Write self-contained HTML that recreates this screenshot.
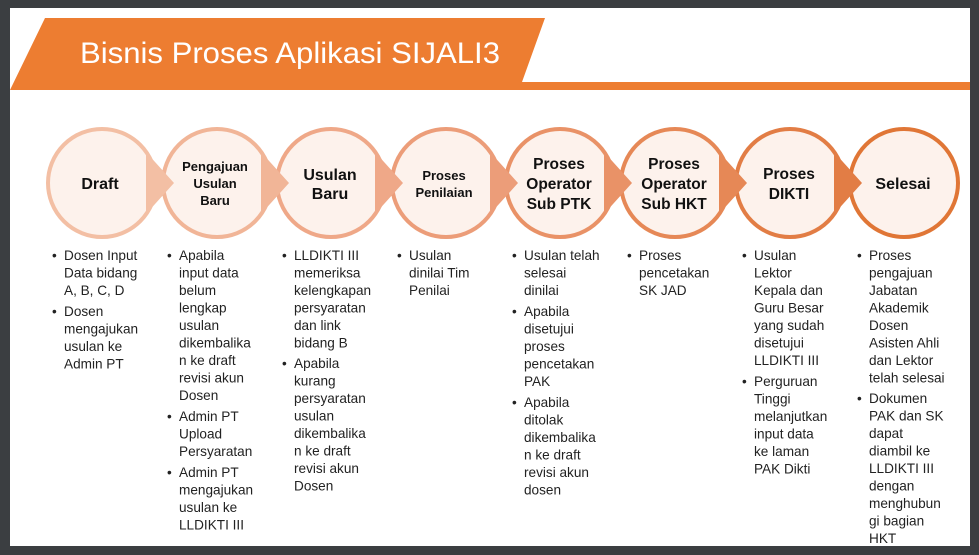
<!DOCTYPE html>
<html><head><meta charset="utf-8"><style>
html,body{margin:0;padding:0;background:#3b3e41;}
svg{display:block}
.t{font-family:"Liberation Sans",sans-serif;font-size:13.6px;fill:#222;}
.c{font-family:"Liberation Sans",sans-serif;font-weight:bold;fill:#111;text-anchor:middle;}
</style></head><body>
<svg width="979" height="555" viewBox="0 0 979 555" xmlns="http://www.w3.org/2000/svg">
<rect x="0" y="0" width="979" height="555" fill="#3b3e41"/>
<rect x="10" y="8" width="960" height="538" fill="#ffffff"/>
<polygon points="45,18 545,18 522,82 970,82 970,90 10,90" fill="#ed7d31"/>
<text x="80" y="63" font-family="Liberation Sans,sans-serif" font-size="30" fill="#fff" textLength="420" lengthAdjust="spacingAndGlyphs">Bisnis Proses Aplikasi SIJALI3</text>

<g stroke-width="4" fill="#fdf2ec">
<circle cx="102" cy="183" r="54" stroke="#f3bfa4"/>
<circle cx="217" cy="183" r="54" stroke="#f1b597"/>
<circle cx="331" cy="183" r="54" stroke="#efa888"/>
<circle cx="446" cy="183" r="54" stroke="#ec9d79"/>
<circle cx="560" cy="183" r="54" stroke="#e99267"/>
<circle cx="675" cy="183" r="54" stroke="#e68856"/>
<circle cx="790" cy="183" r="54" stroke="#e27d45"/>
<circle cx="904" cy="183" r="54" stroke="#e07636"/>
</g>
<polygon points="146,152 174,183 146,214" fill="#f3bfa4"/>
<polygon points="261,152 289,183 261,214" fill="#f1b597"/>
<polygon points="375,152 403,183 375,214" fill="#efa888"/>
<polygon points="490,152 518,183 490,214" fill="#ec9d79"/>
<polygon points="604,152 632,183 604,214" fill="#e99267"/>
<polygon points="719,152 747,183 719,214" fill="#e68856"/>
<polygon points="834,152 862,183 834,214" fill="#e27d45"/>

<g class="c">
<text x="100" y="189" font-size="16">Draft</text>
<text x="215" y="171" font-size="13">Pengajuan</text>
<text x="215" y="188" font-size="13">Usulan</text>
<text x="215" y="205" font-size="13">Baru</text>
<text x="330" y="180" font-size="16">Usulan</text>
<text x="330" y="199" font-size="16">Baru</text>
<text x="444" y="180" font-size="13">Proses</text>
<text x="444" y="197" font-size="13">Penilaian</text>
<text x="559" y="169" font-size="15.5">Proses</text>
<text x="559" y="189" font-size="15.5">Operator</text>
<text x="559" y="209" font-size="15.5">Sub PTK</text>
<text x="674" y="169" font-size="15.5">Proses</text>
<text x="674" y="189" font-size="15.5">Operator</text>
<text x="674" y="209" font-size="15.5">Sub HKT</text>
<text x="789" y="179" font-size="15.5">Proses</text>
<text x="789" y="199" font-size="15.5">DIKTI</text>
<text x="903" y="189" font-size="16">Selesai</text>
</g>

<g class="t">
<text x="52" y="260">•</text>
<text x="64" y="260">Dosen Input</text><text x="64" y="277.5">Data bidang</text><text x="64" y="295">A, B, C, D</text>
<text x="52" y="316">•</text>
<text x="64" y="316">Dosen</text><text x="64" y="333.5">mengajukan</text><text x="64" y="351">usulan ke</text><text x="64" y="368.5">Admin PT</text>
<text x="167" y="260">•</text>
<text x="179" y="260">Apabila</text><text x="179" y="277.5">input data</text><text x="179" y="295">belum</text><text x="179" y="312.5">lengkap</text><text x="179" y="330">usulan</text><text x="179" y="347.5">dikembalika</text><text x="179" y="365">n ke draft</text><text x="179" y="382.5">revisi akun</text><text x="179" y="400">Dosen</text>
<text x="167" y="421">•</text>
<text x="179" y="421">Admin PT</text><text x="179" y="438.5">Upload</text><text x="179" y="456">Persyaratan</text>
<text x="167" y="477">•</text>
<text x="179" y="477">Admin PT</text><text x="179" y="494.5">mengajukan</text><text x="179" y="512">usulan ke</text><text x="179" y="529.5">LLDIKTI III</text>
<text x="282" y="260">•</text>
<text x="294" y="260">LLDIKTI III</text><text x="294" y="277.5">memeriksa</text><text x="294" y="295">kelengkapan</text><text x="294" y="312.5">persyaratan</text><text x="294" y="330">dan link</text><text x="294" y="347.5">bidang B</text>
<text x="282" y="368">•</text>
<text x="294" y="368">Apabila</text><text x="294" y="385.5">kurang</text><text x="294" y="403">persyaratan</text><text x="294" y="420.5">usulan</text><text x="294" y="438">dikembalika</text><text x="294" y="455.5">n ke draft</text><text x="294" y="473">revisi akun</text><text x="294" y="490.5">Dosen</text>
<text x="397" y="260">•</text>
<text x="409" y="260">Usulan</text><text x="409" y="277.5">dinilai Tim</text><text x="409" y="295">Penilai</text>
<text x="512" y="260">•</text>
<text x="524" y="260">Usulan telah</text><text x="524" y="277.5">selesai</text><text x="524" y="295">dinilai</text>
<text x="512" y="316">•</text>
<text x="524" y="316">Apabila</text><text x="524" y="333.5">disetujui</text><text x="524" y="351">proses</text><text x="524" y="368.5">pencetakan</text><text x="524" y="386">PAK</text>
<text x="512" y="407">•</text>
<text x="524" y="407">Apabila</text><text x="524" y="424.5">ditolak</text><text x="524" y="442">dikembalika</text><text x="524" y="459.5">n ke draft</text><text x="524" y="477">revisi akun</text><text x="524" y="494.5">dosen</text>
<text x="627" y="260">•</text>
<text x="639" y="260">Proses</text><text x="639" y="277.5">pencetakan</text><text x="639" y="295">SK JAD</text>
<text x="742" y="260">•</text>
<text x="754" y="260">Usulan</text><text x="754" y="277.5">Lektor</text><text x="754" y="295">Kepala dan</text><text x="754" y="312.5">Guru Besar</text><text x="754" y="330">yang sudah</text><text x="754" y="347.5">disetujui</text><text x="754" y="365">LLDIKTI III</text>
<text x="742" y="386">•</text>
<text x="754" y="386">Perguruan</text><text x="754" y="403.5">Tinggi</text><text x="754" y="421">melanjutkan</text><text x="754" y="438.5">input data</text><text x="754" y="456">ke laman</text><text x="754" y="473.5">PAK Dikti</text>
<text x="857" y="260">•</text>
<text x="869" y="260">Proses</text><text x="869" y="277.5">pengajuan</text><text x="869" y="295">Jabatan</text><text x="869" y="312.5">Akademik</text><text x="869" y="330">Dosen</text><text x="869" y="347.5">Asisten Ahli</text><text x="869" y="365">dan Lektor</text><text x="869" y="382.5">telah selesai</text>
<text x="857" y="403">•</text>
<text x="869" y="403">Dokumen</text><text x="869" y="420.5">PAK dan SK</text><text x="869" y="438">dapat</text><text x="869" y="455.5">diambil ke</text><text x="869" y="473">LLDIKTI III</text><text x="869" y="490.5">dengan</text><text x="869" y="508">menghubun</text><text x="869" y="525.5">gi bagian</text><text x="869" y="543">HKT</text>
</g>
<rect x="0" y="546" width="979" height="9" fill="#3b3e41"/>
</svg>
</body></html>
